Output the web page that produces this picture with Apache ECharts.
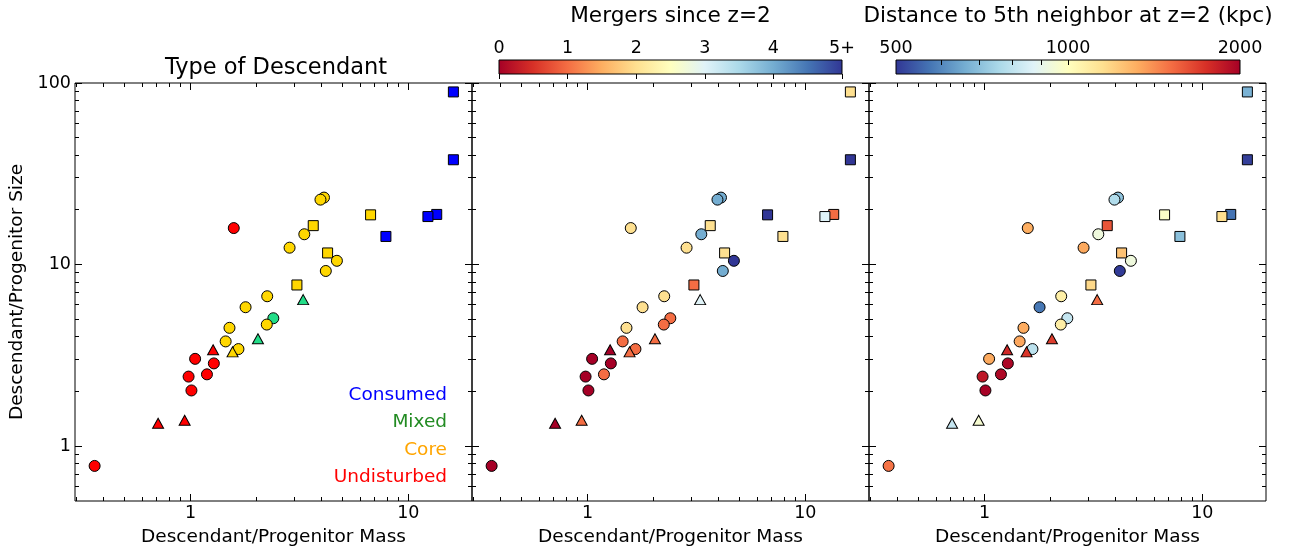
<!DOCTYPE html>
<html>
<head>
<meta charset="utf-8">
<script src="https://cdn.jsdelivr.net/npm/echarts@6/dist/echarts.min.js"></script>
<style>
  html, body { margin: 0; padding: 0; background: #fff; }
  #chart { width: 1293px; height: 551px; }
</style>
</head>
<body>
<div id="chart"></div>
<script>
// Descendant / progenitor ratios, one entry per galaxy (later entries draw on top)
const massRatio = [16.1, 16.1, 4.10, 3.95, 6.71, 13.5, 12.3, 7.89, 1.58, 3.66,
                   3.33, 2.85, 4.26, 4.70, 4.18, 3.08, 3.29, 2.25, 1.79, 2.40,
                   2.24, 1.51, 2.04, 1.45, 1.66, 1.56, 1.27, 1.05, 1.28, 0.98,
                   1.19, 1.01, 0.71, 0.94, 0.363];
const sizeRatio = [89.3, 37.8, 23.4, 22.8, 18.8, 18.9, 18.4, 14.3, 15.9, 16.4,
                   14.7, 12.4, 11.6, 10.5, 9.23, 7.73, 6.42, 6.70, 5.83, 5.07,
                   4.68, 4.49, 3.91, 3.78, 3.43, 3.31, 3.40, 3.03, 2.86, 2.42,
                   2.49, 2.03, 1.34, 1.39, 0.78];
const markerShape = ['square', 'square', 'circle', 'circle', 'square', 'square', 'square', 'square', 'circle', 'square',
                     'circle', 'circle', 'square', 'circle', 'circle', 'square', 'triangle', 'circle', 'circle', 'circle',
                     'circle', 'circle', 'triangle', 'circle', 'circle', 'triangle', 'triangle', 'circle', 'circle', 'circle',
                     'circle', 'circle', 'triangle', 'triangle', 'circle'];
const descendantType = ['Consumed', 'Consumed', 'Core', 'Core', 'Core', 'Consumed', 'Consumed', 'Consumed', 'Undisturbed', 'Core',
                        'Core', 'Core', 'Core', 'Core', 'Core', 'Core', 'Mixed', 'Core', 'Core', 'Mixed',
                        'Core', 'Core', 'Mixed', 'Core', 'Core', 'Core', 'Undisturbed', 'Undisturbed', 'Undisturbed', 'Undisturbed',
                        'Undisturbed', 'Undisturbed', 'Undisturbed', 'Undisturbed', 'Undisturbed'];
const mergerCount = [2, 5, 4, 4, 5, 1, 3, 2, 2, 2,
                     4, 2, 2, 5, 4, 1, 3, 2, 2, 1,
                     1, 2, 1, 1, 1, 1, 0, 0, 0, 0,
                     1, 0, 0, 1, 0];
// distance to the 5th nearest neighbour at z=2, kpc
const neighborDist = [670, 510, 705, 770, 980, 572, 1150, 700, 1320, 1600,
                      930, 1335, 1250, 930, 505, 1170, 1515, 1075, 578, 810,
                      1080, 1325, 1690, 1340, 790, 1720, 1780, 1330, 1960, 1870,
                      1950, 1990, 810, 960, 1495];

const typeNames = ['Consumed', 'Mixed', 'Core', 'Undisturbed'];
const typeMarkerColors = { Consumed: '#0000ff', Mixed: '#22dd88', Core: '#ffd700', Undisturbed: '#ff0000' };
const typeTextColors = { Consumed: '#0000ff', Mixed: '#228b22', Core: '#ffa500', Undisturbed: '#ff0000' };

// axis ticks
const xMajorTicks = [1, 10];
const xMinorTicks = [0.3, 0.4, 0.5, 0.6, 0.7, 0.8, 0.9, 2, 3, 4, 5, 6, 7, 8, 9];
const yMajorTicks = [1, 10, 100];
const yMinorTicks = [0.6, 0.7, 0.8, 0.9, 2, 3, 4, 5, 6, 7, 8, 9, 20, 30, 40, 50, 60, 70, 80, 90];
const mergerTicks = [0, 1, 2, 3, 4, 5];
const mergerTickLabels = ['0', '1', '2', '3', '4', '5+'];
const distLabelTicks = [500, 1000, 2000];
const distTicks = [600, 700, 800, 900, 1000];

const RdYlBu = ['#a50026', '#d73027', '#f46d43', '#fdae61', '#fee090', '#ffffbf',
                '#e0f3f8', '#abd9e9', '#74add1', '#4575b4', '#313695'];
const RdYlBu_r = RdYlBu.slice().reverse();

const FONT = 'DejaVu Sans';
const X_MIN = 0.295, X_MAX = 19.6, Y_MIN = 0.5, Y_MAX = 100;
const panelLefts = [75, 472, 869];

const chart = echarts.init(document.getElementById('chart'), null, { renderer: 'canvas' });

function isDecade(v) {
  const l = Math.log10(v);
  return Math.abs(l - Math.round(l)) < 1e-6;
}
function symbolOf(shape) {
  return shape === 'square' ? 'rect' : shape;
}
function sizeOf(shape) {
  if (shape === 'square') return 10;
  if (shape === 'triangle') return [11, 10];
  return 11;
}
function crisp(v) { return Math.round(v - 0.5) + 0.5; }

const grids = panelLefts.map(left => ({
  left: left, top: 83, width: 397, height: 418, outerBoundsMode: 'none', containLabel: false,
  show: true, borderColor: '#000', borderWidth: 1, backgroundColor: 'transparent'
}));
grids.push({ left: 499, top: 60, width: 343, height: 14, outerBoundsMode: 'none', containLabel: false });
grids.push({ left: 896, top: 60, width: 344, height: 14, outerBoundsMode: 'none', containLabel: false });

const xAxes = panelLefts.map((_, i) => ({
  type: 'log', logBase: 10, gridIndex: i, min: X_MIN, max: X_MAX,
  axisLine: { show: false }, axisTick: { show: false }, splitLine: { show: false },
  axisLabel: {
    fontFamily: FONT, fontSize: 17.5, color: '#000', margin: 3,
    formatter: v => isDecade(v) ? String(Math.round(v)) : ''
  },
  name: 'Descendant/Progenitor Mass', nameLocation: 'middle', nameGap: 27,
  nameTextStyle: { fontFamily: FONT, fontSize: 18.5, color: '#000' }
}));
const yAxes = panelLefts.map((_, i) => ({
  type: 'log', logBase: 10, gridIndex: i, min: Y_MIN, max: Y_MAX,
  axisLine: { show: false }, axisTick: { show: false }, splitLine: { show: false },
  axisLabel: {
    show: i === 0, fontFamily: FONT, fontSize: 17.5, color: '#000', margin: 4,
    formatter: v => isDecade(v) ? String(Math.round(v)) : ''
  },
  name: i === 0 ? 'Descendant/Progenitor Size' : '', nameLocation: 'middle', nameGap: 48,
  nameRotate: 90,
  nameTextStyle: { fontFamily: FONT, fontSize: 18.5, color: '#000' }
}));

// colour bar axes
xAxes.push({
  type: 'value', gridIndex: 3, min: 0, max: 5, interval: 1, position: 'top',
  axisLine: { show: false }, splitLine: { show: false },
  axisTick: { show: true, inside: true, length: 5, lineStyle: { color: '#000', width: 1 } },
  axisLabel: {
    fontFamily: FONT, fontSize: 17.5, color: '#000', margin: 3,
    formatter: v => mergerTickLabels[mergerTicks.indexOf(v)]
  },
  name: 'Mergers since z=2', nameLocation: 'middle', nameGap: 33,
  nameTextStyle: { fontFamily: FONT, fontSize: 21.6, color: '#000' }
});
xAxes.push({
  type: 'log', logBase: 10, gridIndex: 4, min: 500, max: 2000, position: 'top',
  axisLine: { show: false }, splitLine: { show: false }, axisTick: { show: false },
  axisLabel: {
    fontFamily: FONT, fontSize: 17.5, color: '#000', margin: 3,
    showMinLabel: true, showMaxLabel: true,
    formatter: v => distLabelTicks.indexOf(Math.round(v)) >= 0 ? String(Math.round(v)) : ''
  },
  name: 'Distance to 5th neighbor at z=2 (kpc)', nameLocation: 'middle', nameGap: 33,
  nameTextStyle: { fontFamily: FONT, fontSize: 21.6, color: '#000' }
});
yAxes.push({ type: 'value', gridIndex: 3, min: 0, max: 1, show: false });
yAxes.push({ type: 'value', gridIndex: 4, min: 0, max: 1, show: false });

const points = massRatio.map((m, i) => [m, sizeRatio[i]]);

function scatterSeries(panel, data, extra) {
  return Object.assign({
    type: 'scatter', xAxisIndex: panel, yAxisIndex: panel, data: data,
    symbol: (val, p) => symbolOf(markerShape[p.dataIndex]),
    symbolSize: (val, p) => sizeOf(markerShape[p.dataIndex]),
    itemStyle: { borderColor: '#000', borderWidth: 1, opacity: 1 },
    emphasis: { disabled: true }, z: 3, animation: false
  }, extra);
}

// inward ticks on all four sides of a panel
function tickSeries(panel, dim) {
  const data = [];
  const major = dim === 'x' ? xMajorTicks : yMajorTicks;
  const minor = dim === 'x' ? xMinorTicks : yMinorTicks;
  major.forEach(v => data.push(dim === 'x' ? [v, 1, 7] : [1, v, 7]));
  minor.forEach(v => data.push(dim === 'x' ? [v, 1, 4] : [1, v, 4]));
  return {
    type: 'custom', xAxisIndex: panel, yAxisIndex: panel, data: data,
    silent: true, clip: false, z: 5, animation: false,
    renderItem: (params, api) => {
      const cs = params.coordSys;
      const len = api.value(2);
      const pt = api.coord([api.value(0), api.value(1)]);
      const st = { stroke: '#000', lineWidth: 1 };
      if (dim === 'x') {
        const x = crisp(pt[0]);
        return { type: 'group', children: [
          { type: 'line', shape: { x1: x, y1: cs.y + cs.height, x2: x, y2: cs.y + cs.height - len }, style: st },
          { type: 'line', shape: { x1: x, y1: cs.y, x2: x, y2: cs.y + len }, style: st }
        ] };
      }
      const y = crisp(pt[1]);
      return { type: 'group', children: [
        { type: 'line', shape: { x1: cs.x, y1: y, x2: cs.x + len, y2: y }, style: st },
        { type: 'line', shape: { x1: cs.x + cs.width, y1: y, x2: cs.x + cs.width - len, y2: y }, style: st }
      ] };
    }
  };
}

function colorBarSeries(gridIdx, lo, hi, colors) {
  const stops = colors.map((c, i) => ({ offset: i / (colors.length - 1), color: c }));
  return {
    type: 'custom', xAxisIndex: gridIdx, yAxisIndex: gridIdx, data: [[lo, hi]],
    silent: true, animation: false, z: 2,
    renderItem: (params, api) => {
      const p0 = api.coord([api.value(0), 0]);
      const p1 = api.coord([api.value(1), 1]);
      return {
        type: 'rect',
        shape: { x: p0[0], y: p1[1], width: p1[0] - p0[0], height: p0[1] - p1[1] },
        style: { fill: new echarts.graphic.LinearGradient(0, 0, 1, 0, stops), stroke: '#000', lineWidth: 1 }
      };
    }
  };
}

const series = [
  scatterSeries(0, points, {
    itemStyle: {
      borderColor: '#000', borderWidth: 1, opacity: 1,
      color: p => typeMarkerColors[descendantType[p.dataIndex]]
    }
  }),
  scatterSeries(1, points.map((p, i) => [p[0], p[1], mergerCount[i]])),
  scatterSeries(2, points.map((p, i) => [p[0], p[1], Math.log10(neighborDist[i])])),
  tickSeries(0, 'x'), tickSeries(0, 'y'),
  tickSeries(1, 'x'), tickSeries(1, 'y'),
  tickSeries(2, 'x'), tickSeries(2, 'y'),
  colorBarSeries(3, 0, 5, RdYlBu),
  colorBarSeries(4, 500, 2000, RdYlBu_r),
  {
    type: 'custom', xAxisIndex: 4, yAxisIndex: 4, data: distTicks.map(v => [v, 1]),
    silent: true, animation: false, z: 4, clip: false,
    renderItem: (params, api) => {
      const pt = api.coord([api.value(0), api.value(1)]);
      const x = crisp(pt[0]);
      return { type: 'line', shape: { x1: x, y1: pt[1], x2: x, y2: pt[1] + 5 }, style: { stroke: '#000', lineWidth: 1 } };
    }
  }
];

// category labels in the first panel
const graphics = [{
  type: 'text', x: 276, y: 68,
  style: { text: 'Type of Descendant', font: '22.5px "DejaVu Sans"', fill: '#000', align: 'center', verticalAlign: 'middle' }
}];
const labelY = [395, 422.5, 450, 477];
typeNames.forEach((name, i) => {
  graphics.push({
    type: 'text', x: 447, y: labelY[i],
    style: { text: name, font: '18.5px "DejaVu Sans"', fill: typeTextColors[name], align: 'right', verticalAlign: 'middle' }
  });
});

chart.setOption({
  animation: false,
  backgroundColor: '#fff',
  grid: grids,
  xAxis: xAxes,
  yAxis: yAxes,
  visualMap: [
    { type: 'continuous', show: false, seriesIndex: 1, dimension: 2, min: 0, max: 5,
      inRange: { color: RdYlBu } },
    { type: 'continuous', show: false, seriesIndex: 2, dimension: 2,
      min: Math.log10(500), max: Math.log10(2000), inRange: { color: RdYlBu_r } }
  ],
  series: series,
  graphic: graphics
});
</script>
</body>
</html>
